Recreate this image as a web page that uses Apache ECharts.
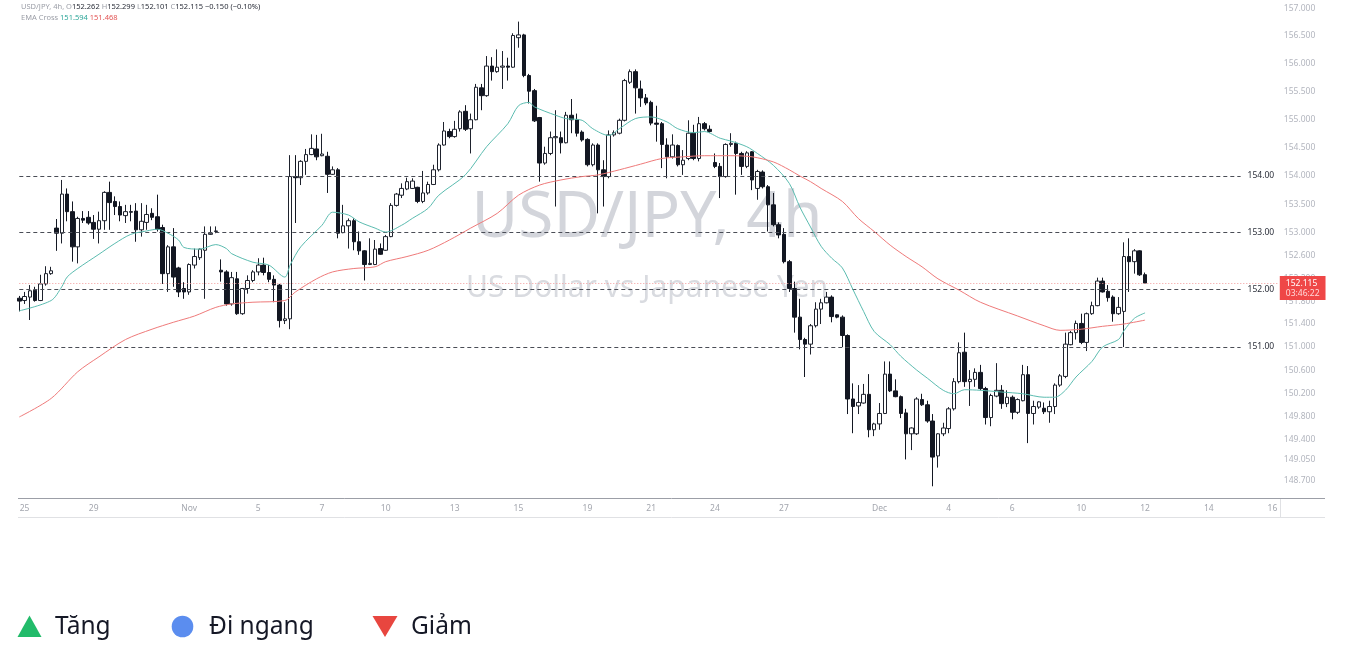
<!DOCTYPE html>
<html><head><meta charset="utf-8">
<script src="https://cdn.jsdelivr.net/npm/echarts@6/dist/echarts.min.js"></script>
<style>html,body{margin:0;padding:0;background:#fff;}#c{width:1347px;height:672px;}</style>
</head><body><div id="c"></div>
<script>
const FONT = '"Noto Sans", sans-serif';

// ---- DATA ----
const slotCount = 238; // 4h bar slots incl. future space
const dateTicks = [[1,'25'],[14,'29'],[32,'Nov'],[45,'5'],[57,'7'],[69,'10'],[82,'13'],[94,'15'],[107,'19'],[119,'21'],[131,'24'],[144,'27'],[162,'Dec'],[175,'4'],[187,'6'],[200,'10'],[212,'12'],[224,'14'],[236,'16']];
const priceScaleLabels = [157.0,156.5,156.0,155.5,155.0,154.5,154.0,153.5,153.0,152.6,152.2,151.8,151.4,151.0,150.6,150.2,149.8,149.4,149.05,148.7];
const levelLines = [154, 153, 152, 151];
const lastPrice = 152.115;
const lastCountdown = '03:46:22';
const headerSymbol = 'USD/JPY, 4h,';
const headerOHLC = [['O','152.262'],['H','152.299'],['L','152.101'],['C','152.115']];
const headerChange = '−0.150 (−0.10%)';
const emaName = 'EMA Cross';
const emaValues = ['151.594', '151.468'];
const watermark = ['USD/JPY, 4h', 'US Dollar vs Japanese Yen'];
const legendItems = ['Tăng', 'Đi ngang', 'Giảm'];

// [open, close, low, high]
const ohlc = [
[151.85,151.80,151.62,151.89],[151.81,151.88,151.75,151.96],[151.87,151.98,151.47,152.08],[151.99,151.81,151.79,152.05],
[151.81,152.10,151.80,152.26],[152.10,152.28,152.07,152.41],[152.28,152.33,152.26,152.40],[153.08,152.99,152.68,153.24],
[152.99,153.68,152.81,153.93],[153.68,153.37,153.20,153.78],[153.37,152.75,152.49,153.55],[152.75,153.25,152.46,153.28],
[153.25,153.22,153.17,153.38],[153.27,153.17,153.14,153.38],[153.18,153.06,152.89,153.31],[153.06,153.21,152.81,153.37],
[153.21,153.71,153.05,153.73],[153.71,153.53,153.05,153.90],[153.55,153.46,153.31,153.64],[153.46,153.31,153.20,153.55],
[153.30,153.37,153.17,153.49],[153.37,153.36,153.20,153.49],[153.38,153.05,152.84,153.52],[153.05,153.20,152.93,153.52],
[153.18,153.32,153.05,153.49],[153.34,153.27,153.22,153.43],[153.28,153.06,153.02,153.67],[153.09,152.28,152.10,153.14],
[152.28,152.75,151.96,152.78],[152.75,152.22,152.05,153.08],[152.38,151.96,151.87,152.40],[152.02,151.96,151.84,152.13],
[151.96,152.44,151.91,152.46],[152.43,152.58,152.37,152.72],[152.56,152.71,152.52,152.72],[152.69,152.97,151.84,153.11],
[152.97,152.99,152.96,153.11],[153.02,153.03,152.99,153.11],[152.34,152.31,152.14,152.53],[152.31,151.75,151.72,152.34],
[151.75,152.21,151.72,152.31],[152.19,151.58,151.56,152.31],[151.58,152.02,151.56,152.03],[152.02,152.16,151.93,152.25],
[152.16,152.31,152.13,152.34],[152.31,152.43,152.25,152.55],[152.43,152.30,152.25,152.56],[152.30,152.18,152.13,152.43],
[152.18,152.08,151.78,152.25],[152.08,151.46,151.34,152.10],[151.46,151.49,151.40,151.78],[151.49,153.99,151.31,154.37],
[153.99,153.97,153.17,154.37],[153.97,154.26,153.84,154.28],[154.26,154.38,154.02,154.48],[154.38,154.49,154.37,154.74],
[154.48,154.34,154.28,154.73],[154.36,154.39,154.35,154.75],[154.35,154.03,153.70,154.43],[154.03,154.11,154.02,154.17],
[154.11,152.99,152.90,154.14],[153.00,153.12,152.99,153.49],[153.12,153.21,152.72,153.25],[153.21,152.84,152.69,153.25],
[152.84,152.68,152.61,153.02],[152.68,152.44,152.16,152.69],[152.44,152.46,152.43,152.90],[152.44,152.71,152.43,152.87],
[152.72,152.62,152.61,152.81],[152.69,152.93,152.68,152.96],[152.93,153.48,152.92,153.52],[153.48,153.68,153.46,153.70],
[153.66,153.78,153.61,153.87],[153.77,153.90,153.75,153.97],[153.78,153.91,153.77,153.96],[153.80,153.55,153.52,153.81],
[153.55,153.70,153.52,154.09],[153.70,153.85,153.67,153.90],[153.85,154.11,153.84,154.20],[154.11,154.55,154.08,154.58],
[154.55,154.80,154.54,154.96],[154.79,154.70,154.67,154.84],[154.70,154.83,154.68,154.98],[154.84,155.14,154.79,155.17],
[155.15,154.83,154.80,155.26],[154.84,155.00,154.40,155.11],[155.00,155.58,154.99,155.64],[155.57,155.43,155.17,155.64],
[155.43,155.96,155.41,156.14],[155.96,155.86,155.70,156.12],[155.86,155.94,155.84,156.26],[155.94,155.96,155.55,156.23],
[155.96,155.94,155.70,156.11],[155.94,156.51,155.93,156.55],[156.47,156.52,156.29,156.76],[156.52,155.79,155.76,156.54],
[155.79,155.51,155.29,155.82],[155.52,154.98,154.96,155.55],[155.04,154.23,153.90,155.05],[154.23,154.40,154.20,154.52],
[154.40,154.68,154.37,154.79],[154.68,154.70,153.46,155.17],[154.68,154.59,154.40,154.79],[154.59,155.08,154.58,155.14],
[155.08,155.00,154.76,155.37],[155.00,154.76,154.70,155.11],[154.78,154.64,154.61,154.81],[154.65,154.20,154.17,154.67],
[154.20,154.55,154.17,154.58],[154.55,154.11,153.34,154.58],[154.11,153.99,153.46,154.28],[153.99,154.73,153.96,154.81],
[154.73,154.77,154.70,154.81],[154.76,154.99,154.74,155.02],[154.99,155.70,154.97,155.73],[155.67,155.86,155.64,155.90],
[155.86,155.57,155.11,155.90],[155.55,155.39,155.23,155.70],[155.39,155.30,155.26,155.46],[155.31,154.94,154.90,155.34],
[154.94,154.92,154.61,155.25],[154.93,154.56,154.14,154.96],[154.55,154.34,153.96,154.67],[154.34,154.55,154.31,154.74],
[154.54,154.20,154.17,154.56],[154.20,154.28,154.02,154.46],[154.31,154.76,154.28,154.99],[154.76,154.31,154.28,154.91],
[154.31,154.93,154.26,155.05],[154.93,154.84,154.81,154.96],[154.83,154.79,154.77,154.90],[154.24,154.17,154.14,154.40],
[154.17,153.99,153.61,154.23],[153.99,154.56,153.97,154.58],[154.56,154.58,154.52,154.76],[154.58,154.40,153.67,154.61],
[154.40,154.17,154.02,154.43],[154.17,154.41,154.14,154.44],[154.43,153.93,153.75,154.44],[153.78,154.08,153.58,154.11],
[154.07,153.81,153.78,154.10],[153.81,153.49,153.02,153.84],[153.49,153.14,153.11,153.70],[153.14,152.96,152.90,153.18],
[152.97,152.49,152.46,153.08],[152.49,152.02,151.96,152.52],[152.02,151.52,151.25,152.14],[151.52,151.13,150.96,151.84],
[151.13,151.05,150.48,151.16],[151.05,151.37,150.87,151.40],[151.37,151.66,151.34,151.78],[151.66,151.77,151.40,151.84],
[151.77,151.87,151.76,151.96],[151.87,151.53,151.43,151.90],[151.56,151.52,151.50,151.57],[151.52,151.20,151.00,151.55],
[151.20,150.10,149.84,151.22],[150.10,149.97,149.51,150.37],[149.98,150.04,149.84,150.34],[150.03,150.18,150.02,150.36],
[150.18,149.57,149.44,150.53],[149.57,149.67,149.46,149.69],[149.67,149.85,149.57,150.03],[149.85,150.53,149.84,150.75],
[150.53,150.24,150.22,150.75],[150.24,150.14,150.13,150.44],[150.14,149.85,149.77,150.16],[149.86,149.50,149.06,149.93],
[149.50,149.60,149.22,149.61],[149.50,150.10,149.48,150.13],[150.09,150.00,149.98,150.19],[150.00,149.72,149.69,150.07],
[149.72,149.10,148.60,149.84],[149.12,149.50,148.92,149.51],[149.50,149.60,149.46,149.69],[149.59,149.93,149.51,149.96],
[149.93,150.40,149.90,150.46],[150.40,150.90,150.37,151.08],[150.91,150.40,150.31,151.25],[150.40,150.44,149.98,150.60],
[150.44,150.56,150.31,150.63],[150.56,150.28,150.25,150.69],[150.28,149.78,149.66,150.31],[149.78,150.16,149.63,150.19],
[150.15,150.25,150.13,150.72],[150.25,150.02,149.93,150.34],[150.02,150.13,149.96,150.25],[150.13,149.87,149.75,150.16],
[149.87,150.09,149.84,150.11],[150.07,150.52,150.06,150.69],[150.52,149.85,149.34,150.67],[149.85,149.97,149.66,150.07],
[149.96,150.05,149.93,150.06],[149.94,149.88,149.84,150.04],[149.88,149.97,149.69,150.07],[149.97,150.34,149.84,150.37],
[150.34,150.50,150.31,150.53],[150.49,151.05,150.46,151.25],[151.04,151.25,151.03,151.28],[151.25,151.41,151.13,151.46],
[151.41,151.08,151.05,151.58],[151.08,151.58,150.93,151.60],[151.58,151.72,151.56,151.79],[151.72,152.15,151.71,152.21],
[152.15,151.96,151.95,152.21],[151.97,151.86,151.79,152.08],[151.87,151.58,151.44,151.90],[151.58,151.69,151.56,151.87],
[151.62,152.58,151.00,152.83],[152.58,152.49,151.96,152.90],[152.49,152.68,152.28,152.71],[152.68,152.26,152.24,152.69],
[152.262,152.115,152.101,152.299]
];

// EMA readings [bar index, value]
const emaFast = [
[0,151.63],[6,151.81],[8,152.05],[9,152.22],[11,152.37],[15,152.62],[18,152.81],[21,152.97],[24,153.03],[26,153.06],
[28,152.99],[30,152.87],[31,152.74],[34,152.71],[37,152.79],[39,152.72],[40,152.63],[44,152.48],[47,152.43],[50,152.22],
[51,152.43],[53,152.75],[57,153.13],[59,153.36],[62,153.31],[64,153.19],[67,153.08],[69,153.01],[72,153.13],[74,153.25],
[77,153.43],[79,153.66],[84,154.02],[88,154.52],[92,154.93],[94,155.25],[96,155.31],[97,155.23],[101,155.08],[103,155.02],
[106,154.99],[108,154.84],[111,154.72],[113,154.84],[116,155.02],[119,155.05],[122,154.96],[124,154.84],[127,154.77],[129,154.79],
[132,154.67],[134,154.62],[137,154.52],[139,154.40],[142,154.19],[145,153.87],[147,153.45],[149,153.10],[151,152.76],[153,152.55],
[155,152.38],[157,152.00],[159,151.62],[161,151.27],[164,151.04],[166,150.84],[169,150.60],[171,150.46],[174,150.25],[176,150.19],
[178,150.26],[181,150.25],[185,150.22],[189,150.19],[193,150.13],[195,150.13],[197,150.25],[199,150.48],[202,150.75],[204,151.00],
[207,151.13],[208,151.28],[210,151.50],[212,151.594]
];
const emaSlow = [
[0,149.79],[6,150.11],[11,150.57],[15,150.83],[20,151.13],[25,151.31],[29,151.43],[33,151.54],[37,151.69],[40,151.75],
[44,151.78],[50,151.81],[52,151.96],[56,152.19],[59,152.31],[63,152.37],[67,152.40],[69,152.49],[73,152.58],[77,152.69],
[81,152.87],[85,153.08],[90,153.34],[94,153.66],[98,153.84],[102,153.93],[106,153.99],[109,154.02],[113,154.11],[117,154.21],
[121,154.31],[125,154.34],[129,154.36],[134,154.36],[138,154.34],[142,154.25],[145,154.11],[147,154.00],[149,153.90],[151,153.78],
[155,153.55],[158,153.25],[161,153.02],[164,152.78],[167,152.58],[170,152.40],[173,152.19],[177,151.99],[181,151.78],[188,151.54],
[193,151.37],[196,151.29],[200,151.31],[204,151.36],[208,151.40],[212,151.468]
];

// ---- BUILD ----
const categories = new Array(slotCount).fill('');
dateTicks.forEach(([i, t]) => { categories[i] = t; });
const lastSlot = slotCount - 1;
const levelEnd = 230;

const headerRich = '{g|' + headerSymbol + ' }' +
  headerOHLC.map(([k, v]) => '{g|' + k + '}{d|' + v + '}').join('{g| }') +
  '{d| ' + headerChange + '}';
const emaRich = '{g|' + emaName + ' }{t|' + emaValues[0] + '}{g| }{r|' + emaValues[1] + '}';

const chart = echarts.init(document.getElementById('c'), null, {renderer: 'canvas'});
const option = {
  animation: false,
  backgroundColor: '#ffffff',
  textStyle: {fontFamily: FONT},
  grid: {left: 16.65, top: 0, width: 1263.8, height: 498, containLabel: false},
  xAxis: {
    type: 'category', data: categories, boundaryGap: true,
    axisLine: {show: false}, axisTick: {show: false}, splitLine: {show: false},
    axisLabel: {interval: 0, margin: 6, fontSize: 8.5, color: '#a3a6ae', fontFamily: FONT}
  },
  yAxis: {
    type: 'log', logBase: 10, min: 148.40, max: 157.15, position: 'right',
    axisLine: {show: false}, axisTick: {show: false}, axisLabel: {show: false}, splitLine: {show: false}
  },
  graphic: [
    {type: 'text', z: 0, x: 647, y: 219, silent: true,
     style: {text: watermark[0], fill: '#d3d5db', font: '400 64px ' + FONT, align: 'center', verticalAlign: 'middle', textAlign: 'center', textVerticalAlign: 'middle'}},
    {type: 'text', z: 0, x: 647, y: 288, silent: true,
     style: {text: watermark[1], fill: '#d9dbe0', font: '400 30px ' + FONT, align: 'center', verticalAlign: 'middle', textAlign: 'center', textVerticalAlign: 'middle'}},
    {type: 'text', x: 21, y: 6.5, silent: true,
     style: {text: headerRich, font: '7.5px ' + FONT, verticalAlign: 'middle', textVerticalAlign: 'middle',
       rich: {g: {fill: '#9a9da6', font: '7.5px ' + FONT}, d: {fill: '#2a2e39', font: '7.5px ' + FONT}}}},
    {type: 'text', x: 21, y: 18, silent: true,
     style: {text: emaRich, font: '7.5px ' + FONT, verticalAlign: 'middle', textVerticalAlign: 'middle',
       rich: {g: {fill: '#9a9da6', font: '7.5px ' + FONT}, t: {fill: '#2fa79a', font: '7.5px ' + FONT}, r: {fill: '#e25555', font: '7.5px ' + FONT}}}},
    {type: 'line', shape: {x1: 18, y1: 498.5, x2: 1325, y2: 498.5}, style: {stroke: '#9c9fa7', lineWidth: 1}, silent: true},
    {type: 'line', shape: {x1: 18, y1: 517.5, x2: 1325, y2: 517.5}, style: {stroke: '#e0e1e4', lineWidth: 1}, silent: true},
    {type: 'line', shape: {x1: 1280.5, y1: 499, x2: 1280.5, y2: 517}, style: {stroke: '#e0e1e4', lineWidth: 1}, silent: true},
    // bottom legend
    {type: 'polygon', shape: {points: [[17.5, 637], [29.5, 615.5], [41.5, 637]]}, style: {fill: '#22bb6a'}, silent: true},
    {type: 'text', x: 55, y: 627, silent: true, style: {text: legendItems[0], fill: '#151826', font: '24.5px ' + FONT, verticalAlign: 'middle', textVerticalAlign: 'middle'}},
    {type: 'circle', shape: {cx: 182.5, cy: 626.5, r: 10.8}, style: {fill: '#5b8def'}, silent: true},
    {type: 'text', x: 209, y: 627, silent: true, style: {text: legendItems[1], fill: '#151826', font: '24.5px ' + FONT, verticalAlign: 'middle', textVerticalAlign: 'middle'}},
    {type: 'polygon', shape: {points: [[372.5, 616], [397.5, 616], [385, 637]]}, style: {fill: '#e8463f'}, silent: true},
    {type: 'text', x: 411, y: 627, silent: true, style: {text: legendItems[2], fill: '#151826', font: '24.5px ' + FONT, verticalAlign: 'middle', textVerticalAlign: 'middle'}}
  ],
  series: [
    {
      type: 'candlestick', name: 'USD/JPY', data: ohlc, barWidth: 4, z: 3,
      itemStyle: {color: '#ffffff', color0: '#131722', borderColor: '#1e222d', borderColor0: '#131722', borderWidth: 1},
      emphasis: {disabled: true},
      markLine: {
        silent: true, animation: false, symbol: ['none', 'none'], z: 4,
        lineStyle: {color: '#4a4d56', type: [4, 3], width: 1},
        label: {position: 'end', distance: 7, color: '#2a2e39', fontSize: 8.5, fontFamily: FONT,
                formatter: p => Number(p.value).toFixed(2)},
        data: levelLines.map(v => [{coord: [0, v], value: v}, {coord: [levelEnd, v], value: v}])
      }
    },
    {
      type: 'line', name: 'EMA fast', data: emaFast, smooth: 0.3, symbol: 'none', z: 5,
      lineStyle: {color: '#5bbcb0', width: 1}, emphasis: {disabled: true},
      markLine: {
        silent: true, animation: false, symbol: ['none', 'none'], z: 5,
        lineStyle: {color: 'rgba(255,255,255,0)', width: 1, type: 'solid'},
        label: {show: true, position: 'end', distance: 6, color: '#b2b5be', fontSize: 8.5, fontFamily: FONT,
                formatter: p => Number(p.value).toFixed(3)},
        emphasis: {disabled: true},
        data: priceScaleLabels.map(v => [{coord: [0, v], value: v}, {coord: [lastSlot, v], value: v}])
      }
    },
    {
      type: 'line', name: 'EMA slow', data: emaSlow, smooth: 0.3, symbol: 'none', z: 5,
      lineStyle: {color: '#ef7a7a', width: 1}, emphasis: {disabled: true},
      markLine: {
        silent: true, animation: false, symbol: ['none', 'none'], z: 8,
        lineStyle: {color: '#f29a9a', type: [1, 2], width: 1},
        label: {position: 'end', distance: 2, offset: [0, 5], backgroundColor: '#ef4747', padding: [2, 6, 1, 6],
                formatter: p => '{p|' + Number(p.value).toFixed(3) + '}\n{t|' + lastCountdown + '}',
                rich: {p: {color: '#ffffff', fontSize: 8.5, lineHeight: 10.5, fontFamily: FONT},
                       t: {color: '#ffd9d9', fontSize: 8.5, lineHeight: 10.5, fontFamily: FONT}}},
        data: [[{coord: [0, lastPrice], value: lastPrice}, {coord: [lastSlot, lastPrice], value: lastPrice}]]
      }
    }
  ]
};
chart.setOption(option);
</script></body></html>
